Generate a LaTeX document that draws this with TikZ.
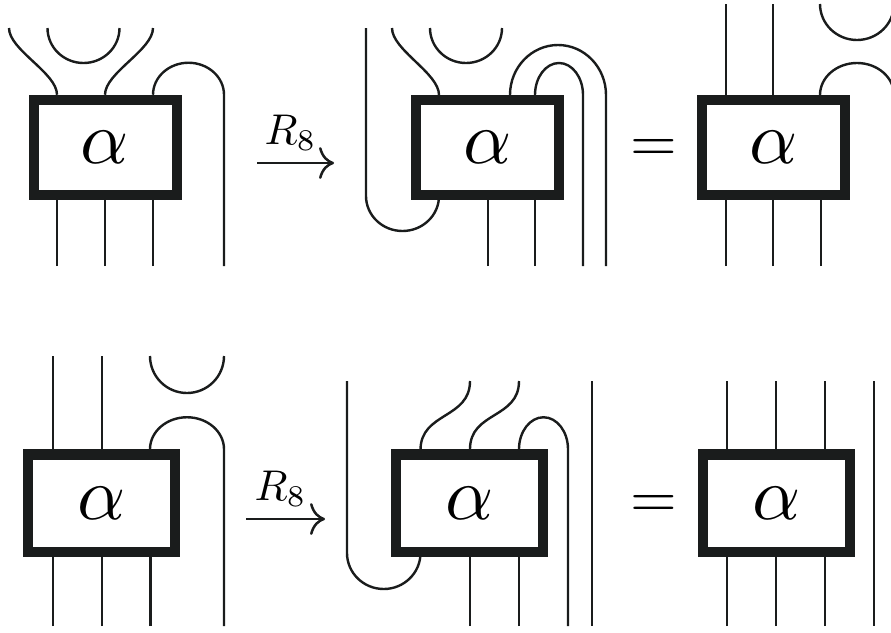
\documentclass[tikz,border=0pt]{standalone}
\usetikzlibrary{arrows.meta}
\definecolor{boxink}{HTML}{1A1C1C}
\newcommand{\bigalpha}{\scalebox{7.5}{$\alpha$}}
\newcommand{\bigeq}{\scalebox{6}{$=$}}
\tikzset{
  wire/.style={draw=boxink, line width=2.4pt},
  alphabox/.style={draw=boxink, fill=white, inner sep=0pt},
  toprow/.style={alphabox, line width=10pt, minimum width=143pt, minimum height=95.5pt},
  lowrow/.style={alphabox, line width=10.5pt, minimum width=147pt, minimum height=97.5pt},
  rulelabel/.style={above=11pt, xshift=-5pt, inner sep=0pt},
  rulearrow/.style={draw=boxink, line width=2.5pt, ->},
  cup/.style={start angle=180, end angle=0},
  dome/.style={start angle=180, end angle=360},
}

\begin{document}
\begin{tikzpicture}[x=1pt, y=-1pt, >={Computer Modern Rightarrow[length=15pt,width=32pt]}]
    \clip (0,0) rectangle (891,632);
    % top row, left
    \node[toprow] (a) at (105,147.5) {\bigalpha};
    \coordinate (ab1) at (57,266);
    \coordinate (ab2) at (105,266);
    \coordinate (ab3) at (153,266);
    \coordinate (abr) at (224,266);
    \coordinate (at1) at (9,28);
    \coordinate (at2) at (153,28);
    \coordinate (ac1) at (47.5,28);
    \foreach \c in {ab1,ab2,ab3} { \draw[wire] (\c) -- (\c |- a.south); }
    \draw[wire] (ab1 |- a.north) .. controls +(0,-22) and +(0,22) .. (at1);
    \draw[wire] (ab2 |- a.north) .. controls +(0,-22) and +(0,22) .. (at2);
    \draw[wire] (ac1) arc[cup, x radius=36, y radius=35];
    \draw[wire] (ab3 |- a.north) arc[dome, x radius=35.5, y radius=32] -- (abr);
    \coordinate (r1s) at (257,163);
    \coordinate (r1e) at (334,163);
    \draw[rulearrow] (r1s) -- node[rulelabel] (r1) {\scalebox{4.3}{$R_8$}} (r1e);
    % top row, middle
    \node[toprow] (b) at (487.5,147.5) {\bigalpha};
    \coordinate (bb1) at (488,266);
    \coordinate (bb2) at (535,266);
    \coordinate (bb3) at (583,266);
    \coordinate (bb4) at (606,266);
    \coordinate (bh1) at (510,95);
    \coordinate (bh2) at (535,95);
    \coordinate (bl1) at (366,28);
    \coordinate (bl2) at (366,196);
    \coordinate (bl3) at (439,95);
    \coordinate (bt1) at (392,28);
    \coordinate (bc1) at (430,28);
    \foreach \c in {bb1,bb2} { \draw[wire] (\c) -- (\c |- b.south); }
    \draw[wire] (bl1) -- (bl2) arc[cup, x radius=36.5, y radius=35];
    \draw[wire] (bl3) .. controls +(0,-22) and +(0,22) .. (bt1);
    \draw[wire] (bc1) arc[cup, x radius=36, y radius=35];
    \draw[wire] (bh1) arc[dome, x radius=48, y radius=50] -- (bb4);
    \draw[wire] (bh2) arc[dome, x radius=24, y radius=32] -- (bb3);
    \node (eq1) at (653.5,150) {\bigeq};
    % top row, right
    \node[toprow] (c) at (773.7,147.5) {\bigalpha};
    \coordinate (cb1) at (726,266);
    \coordinate (cb2) at (773,266);
    \coordinate (cb3) at (821,266);
    \coordinate (ct1) at (726,4);
    \coordinate (ct2) at (773,4);
    \coordinate (cc1) at (820,4);
    \coordinate (ch1) at (820,95);
    \foreach \c in {cb1,cb2,cb3} { \draw[wire] (\c) -- (\c |- c.south); }
    \foreach \c in {ct1,ct2} { \draw[wire] (\c) -- (\c |- c.north); }
    \draw[wire] (cc1) arc[cup, x radius=37, y radius=36];
    \draw[wire] (ch1) arc[dome, x radius=37, y radius=32];
    % low row, left
    \node[lowrow] (d) at (101.7,503.25) {\bigalpha};
    \coordinate (db1) at (52.7,626);
    \coordinate (db2) at (101.7,626);
    \coordinate (db3) at (150.5,626);
    \coordinate (dbr) at (224,626);
    \coordinate (dt1) at (52.7,356);
    \coordinate (dt2) at (101.7,356);
    \coordinate (dc1) at (150,356);
    \foreach \c in {db1,db2,db3} { \draw[wire] (\c) -- (\c |- d.south); }
    \foreach \c in {dt1,dt2} { \draw[wire] (\c) -- (\c |- d.north); }
    \draw[wire] (dc1) arc[cup, x radius=37, y radius=37];
    \draw[wire] (dc1 |- d.north) arc[dome, x radius=37, y radius=32] -- (dbr);
    \coordinate (r2s) at (246,519);
    \coordinate (r2e) at (325,519);
    \draw[rulearrow] (r2s) -- node[rulelabel] (r2) {\scalebox{4.3}{$R_8$}} (r2e);
    % low row, middle
    \node[lowrow] (e) at (469.5,503.25) {\bigalpha};
    \coordinate (eb1) at (470,626);
    \coordinate (eb2) at (519,626);
    \coordinate (eb3) at (568,626);
    \coordinate (eb4) at (592,626);
    \coordinate (el1) at (347,381);
    \coordinate (el2) at (347,553);
    \coordinate (el3) at (420.5,450);
    \coordinate (et1) at (470,381);
    \coordinate (et2) at (519,381);
    \coordinate (et4) at (592,381);
    \foreach \c in {eb1,eb2} { \draw[wire] (\c) -- (\c |- e.south); }
    \draw[wire] (et4) -- (eb4);
    \draw[wire] (el1) -- (el2) arc[cup, x radius=36.75, y radius=36];
    \draw[wire] (el3) .. controls +(0,-38) and +(0,38) .. (et1);
    \draw[wire] (et1 |- e.north) .. controls +(0,-38) and +(0,38) .. (et2);
    \draw[wire] (et2 |- e.north) arc[dome, x radius=24.5, y radius=32] -- (eb3);
    \node (eq2) at (654,506.5) {\bigeq};
    % low row, right
    \node[lowrow] (f) at (776.5,503.25) {\bigalpha};
    \coordinate (fb1) at (727,626);
    \coordinate (fb2) at (776,626);
    \coordinate (fb3) at (825,626);
    \coordinate (fb4) at (874,626);
    \coordinate (ft4) at (874,381);
    \foreach \c in {fb1,fb2,fb3} { \draw[wire] (\c) -- (\c |- f.south); \draw[wire] (\c |- ft4) -- (\c |- f.north); }
    \draw[wire] (ft4) -- (fb4);
\end{tikzpicture}
\end{document}
